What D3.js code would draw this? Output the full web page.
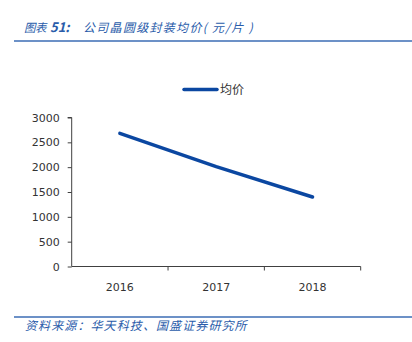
<!DOCTYPE html>
<html><head><meta charset="utf-8">
<script src="https://cdn.jsdelivr.net/npm/d3@7"></script>
<style>body{margin:0;background:#fff}svg{display:block}</style>
</head><body>
<script>
const categories = ["2016","2017","2018"];
const seriesName = "均价";
const values = [2680, 2010, 1400];
const yTicks = [0,500,1000,1500,2000,2500,3000];
const titleLabel = "图表";
const titleNum = "51:";
const titleText = "公司晶圆级封装均价( 元/片 )";
const sourceText = "资料来源：华天科技、国盛证券研究所";

const W = 412, H = 342;
const svg = d3.select("body").append("svg").attr("width", W).attr("height", H);
const blue = "#2a5caa";
const lineColor = "#0b47a1";
const axisColor = "#404040";
const font = "'DejaVu Sans', sans-serif";
const cjk = "'Noto Sans CJK SC', sans-serif";

// header
const t = svg.append("text").attr("y", 32).attr("fill", blue)
  .attr("font-family", cjk).attr("font-size", 12).attr("font-style", "italic");
t.append("tspan").attr("x", 24).attr("font-size", 11.5).attr("letter-spacing", -0.5).text(titleLabel);
t.append("tspan").attr("x", 50).attr("font-size", 13).attr("font-weight", 600).text(titleNum);
t.append("tspan").attr("x", 83).attr("letter-spacing", 1.3).text(titleText);
svg.append("line").attr("x1", 14).attr("x2", 412).attr("y1", 41).attr("y2", 41)
  .attr("stroke", "#3b6db5").attr("stroke-width", 1.5);

// footer
svg.append("line").attr("x1", 14).attr("x2", 412).attr("y1", 317).attr("y2", 317)
  .attr("stroke", "#3b6db5").attr("stroke-width", 1.5);
svg.append("text").attr("x", 25).attr("y", 330).attr("fill", blue)
  .attr("font-family", cjk).attr("font-size", 12).attr("font-style", "italic")
  .attr("letter-spacing", 1.1)
  .text(sourceText);

const x = d3.scaleBand().domain(categories).range([71.7, 360.7]);
const y = d3.scaleLinear().domain([0, 3000]).range([266.5, 117.5]);

// y axis
const ya = svg.append("g").attr("transform", "translate(71.7,0)")
  .call(d3.axisLeft(y).tickValues(yTicks).tickSize(4).tickPadding(8).tickFormat(d3.format("d")));
ya.select(".domain").attr("stroke", axisColor).attr("d", `M-4,${y(3000)}H0V${y(0)}`);
ya.selectAll(".tick line").attr("stroke", axisColor);
ya.selectAll("text").attr("font-family", font).attr("font-size", 11).attr("fill", "#333");

// x axis
const xa = svg.append("g").attr("transform", `translate(0,${y(0)})`)
  .call(d3.axisBottom(x).tickSize(0).tickPadding(17));
xa.select(".domain").attr("stroke", axisColor).attr("d", `M71.7,0H360.7`);
xa.selectAll("text").attr("font-family", font).attr("font-size", 11).attr("fill", "#333");
// boundary ticks
const bounds = categories.map(c => x(c) + x.bandwidth());
xa.selectAll(".btick").data(bounds).enter().append("line")
  .attr("x1", d => d).attr("x2", d => d).attr("y1", 0).attr("y2", 4)
  .attr("stroke", axisColor);

// line
const line = d3.line().x((d, i) => x(categories[i]) + x.bandwidth() / 2).y(d => y(d));
svg.append("path").datum(values).attr("d", line).attr("fill", "none")
  .attr("stroke", lineColor).attr("stroke-width", 3.5).attr("stroke-linecap", "round")
  .attr("stroke-linejoin", "round");

// legend
svg.append("line").attr("x1", 184).attr("x2", 217).attr("y1", 89.5).attr("y2", 89.5)
  .attr("stroke", lineColor).attr("stroke-width", 3.5).attr("stroke-linecap", "round");
svg.append("text").attr("x", 220).attr("y", 94).attr("font-family", cjk).attr("font-size", 12)
  .attr("fill", "#333").text(seriesName);
</script>
</body></html>
